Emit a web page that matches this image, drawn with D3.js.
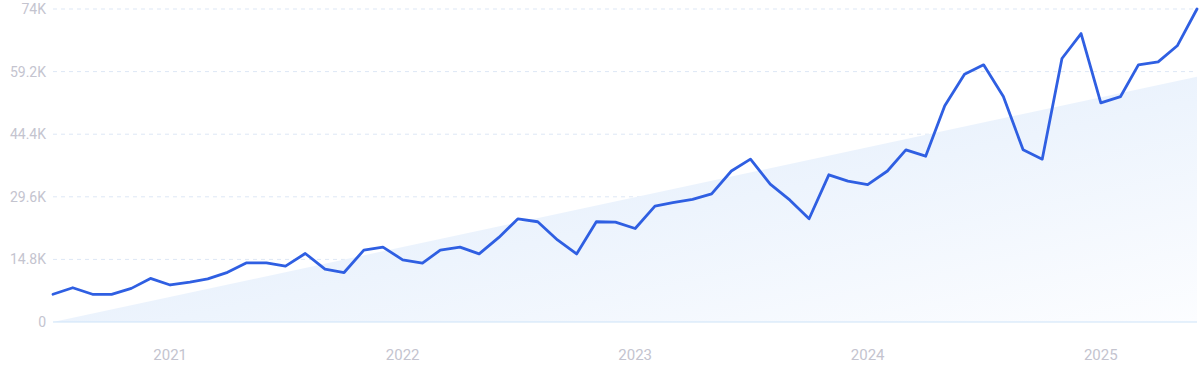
<!DOCTYPE html>
<html>
<head>
<meta charset="utf-8">
<script src="https://cdn.jsdelivr.net/npm/d3@7"></script>
<style>
  body { margin: 0; background: #fff; }
  svg { display: block; font-family: Roboto, "Noto Sans", sans-serif; }
</style>
</head>
<body>
<svg id="chart"></svg>
<script>
const width = 1200;
const height = 371;
const margin = { left: 53, right: 3, top: 9, bottom: 49 };

// monthly search volume, Jul 2020 .. Jun 2025
const startMonth = new Date(2020, 6, 1);
const values = [
    6550, 8100, 6550, 6550, 7950, 10300, 8750, 9450, 10200, 11750, 14000, 14000,
    13200, 16200, 12500, 11700, 17000, 17700, 14700, 13900, 17000, 17700, 16100, 20000,
    24400, 23700, 19400, 16100, 23700, 23600, 22100, 27400, 28200, 29000, 30300, 35700,
    38500, 32600, 28800, 24400, 34800, 33300, 32500, 35700, 40700, 39200, 51100, 58600,
    60800, 53300, 40700, 38500, 62300, 68200, 51800, 53300, 60800, 61500, 65300, 74000
];
// trend area: value at first and last month
const trendValues = [0, 58000];
const yTicks = [0, 14800, 29600, 44400, 59200, 74000];
const yTickLabels = ['0', '14.8K', '29.6K', '44.4K', '59.2K', '74K'];
const xTickYears = [2021, 2022, 2023, 2024, 2025];

const data = values.map((v, i) => ({ date: d3.timeMonth.offset(startMonth, i), value: v }));
const trend = [
    { date: data[0].date, value: trendValues[0] },
    { date: data[data.length - 1].date, value: trendValues[1] }
];

const svg = d3.select('svg#chart').attr('width', width).attr('height', height);

const x = d3.scaleTime()
    .domain([data[0].date, data[data.length - 1].date])
    .range([margin.left, width - margin.right]);
const y = d3.scaleLinear()
    .domain([0, 74000])
    .range([height - margin.bottom, margin.top]);

const defs = svg.append('defs');
const grad = defs.append('linearGradient')
    .attr('id', 'trendFill')
    .attr('x1', '0%').attr('y1', '0%')
    .attr('x2', '100%').attr('y2', '100%');
grad.append('stop').attr('offset', '0%').attr('stop-color', '#dce9fa');
grad.append('stop').attr('offset', '55%').attr('stop-color', '#edf4fd');
grad.append('stop').attr('offset', '100%').attr('stop-color', '#fcfdff');

// grid lines
svg.append('g')
    .selectAll('line')
    .data(yTicks.slice(1))
    .join('line')
    .attr('x1', margin.left)
    .attr('x2', width - margin.right)
    .attr('y1', d => y(d))
    .attr('y2', d => y(d))
    .attr('stroke', '#dde7f5')
    .attr('stroke-width', 1)
    .attr('stroke-dasharray', '4,4');

// trend area
svg.append('path')
    .datum(trend)
    .attr('fill', 'url(#trendFill)')
    .attr('d', d3.area()
        .x(d => x(d.date))
        .y0(y(0))
        .y1(d => y(d.value)));

// baseline
svg.append('line')
    .attr('x1', margin.left)
    .attr('x2', width - margin.right)
    .attr('y1', y(0))
    .attr('y2', y(0))
    .attr('stroke', '#cde3f8')
    .attr('stroke-width', 1);

// y labels
svg.append('g')
    .selectAll('text')
    .data(yTicks)
    .join('text')
    .attr('x', 46)
    .attr('y', d => y(d))
    .attr('dy', '0.35em')
    .attr('text-anchor', 'end')
    .attr('font-size', 14)
    .attr('fill', '#c4c4cf')
    .text((d, i) => yTickLabels[i]);

// x labels
svg.append('g')
    .selectAll('text')
    .data(xTickYears)
    .join('text')
    .attr('x', d => x(new Date(d, 0, 1)))
    .attr('y', 360)
    .attr('text-anchor', 'middle')
    .attr('font-size', 15)
    .attr('fill', '#c4c4cf')
    .text(d => d);

// main line
svg.append('path')
    .datum(data)
    .attr('fill', 'none')
    .attr('stroke', '#2f5fe2')
    .attr('stroke-width', 2.8)
    .attr('stroke-linejoin', 'round')
    .attr('stroke-linecap', 'round')
    .attr('d', d3.line()
        .x(d => x(d.date))
        .y(d => y(d.value)));
</script>
</body>
</html>
